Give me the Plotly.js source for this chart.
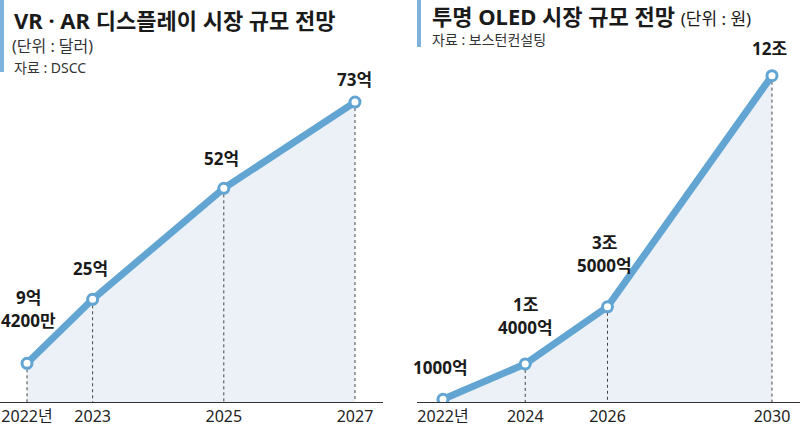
<!DOCTYPE html>
<html><head><meta charset="utf-8">
<script src="https://cdn.plot.ly/plotly-3.0.1.min.js"></script>
<style>html,body{margin:0;padding:0;background:#fff}#c{width:800px;height:430px}</style>
</head><body><div id="c"></div>
<script>
// Left chart: VR·AR display market (억 달러)
const vrYears = [2022, 2023, 2025, 2027];
const vrValues = [9.42, 25, 52, 73];
const vrTickText = ['2022년', '2023', '2025', '2027'];
const vrLabels = ['9억<br>4200만', '25억', '52억', '73억'];
// Right chart: transparent OLED market (조 원)
const oledYears = [2022, 2024, 2026, 2030];
const oledValues = [0.1, 1.4, 3.5, 12];
const oledTickText = ['2022년', '2024', '2026', '2030'];
const oledLabels = ['1000억', '1조<br>4000억', '3조<br>5000억', '12조'];

const LINE = '#62a5d2';
const FILL = '#ebf1f7';
const FONT = '"Noto Sans", "Noto Sans CJK KR", sans-serif';

function drops(xs, ys) {
  const X = [], Y = [];
  xs.forEach((x, i) => { X.push(x, x, null); Y.push(ys[i], 0, null); });
  return {X, Y};
}
const d1 = drops(vrYears, vrValues), d2 = drops(oledYears, oledValues);

const traces = [
  {x: vrYears, y: vrValues, type: 'scatter', mode: 'lines', fill: 'tozeroy', fillcolor: FILL, line: {width: 0}, hoverinfo: 'skip', xaxis: 'x', yaxis: 'y'},
  {x: d1.X, y: d1.Y, type: 'scatter', mode: 'lines', line: {color: '#444', width: 1, dash: '3px,3px'}, xaxis: 'x', yaxis: 'y'},
  {x: vrYears, y: vrValues, type: 'scatter', mode: 'lines+markers', line: {color: LINE, width: 7}, marker: {size: 10, color: '#fff', line: {color: LINE, width: 3}}, xaxis: 'x', yaxis: 'y'},
  {x: oledYears, y: oledValues, type: 'scatter', mode: 'lines', fill: 'tozeroy', fillcolor: FILL, line: {width: 0}, hoverinfo: 'skip', xaxis: 'x2', yaxis: 'y2'},
  {x: d2.X, y: d2.Y, type: 'scatter', mode: 'lines', line: {color: '#444', width: 1, dash: '3px,3px'}, xaxis: 'x2', yaxis: 'y2'},
  {x: oledYears, y: oledValues, type: 'scatter', mode: 'lines+markers', line: {color: LINE, width: 7}, marker: {size: 10, color: '#fff', line: {color: LINE, width: 3}}, xaxis: 'x2', yaxis: 'y2'}
];

const annotations = [];
const LABFONT = {family: FONT, size: 17, color: '#1a1a1a', weight: 700};
function addLabels(labels, xs, ys, xr, yr, offs) {
  labels.forEach((t, i) => {
    const lines = t.split('<br>');
    lines.forEach((ln, j) => {
      const o = offs[i];
      const dy = o.dy - (lines.length - 1 - j) * 23;
      annotations.push({x: xs[i], y: ys[i], xref: xr, yref: yr, text: ln, showarrow: true,
        arrowcolor: 'rgba(0,0,0,0)', ax: o.dx, ay: dy, font: LABFONT});
    });
  });
}
addLabels(vrLabels, vrYears, vrValues, 'x', 'y', [{dx: 1, dy: -43}, {dx: -2, dy: -31}, {dx: -2, dy: -30}, {dx: 0, dy: -23}]);
addLabels(oledLabels, oledYears, oledValues, 'x2', 'y2', [{dx: -2, dy: -32}, {dx: 0, dy: -36}, {dx: -3, dy: -41}, {dx: -2, dy: -27}]);

// titles
annotations.push(
  {xref: 'paper', yref: 'paper', x: 12/800, y: 1 - 20/430, xanchor: 'left', yanchor: 'middle', showarrow: false, text: '<b>VR · AR 디스플레이 시장 규모 전망</b>', font: {family: FONT, size: 22, color: '#1a1a1a'}},
  {xref: 'paper', yref: 'paper', x: 10/800, y: 1 - 46/430, xanchor: 'left', yanchor: 'middle', showarrow: false, text: '(단위 : 달러)', font: {family: FONT, size: 16, color: '#333'}},
  {xref: 'paper', yref: 'paper', x: 12/800, y: 1 - 67/430, xanchor: 'left', yanchor: 'middle', showarrow: false, text: '자료 : DSCC', font: {family: FONT, size: 14, color: '#333'}},
  {xref: 'paper', yref: 'paper', x: 430/800, y: 1 - 16/430, xanchor: 'left', yanchor: 'middle', showarrow: false, text: '<b>투명 OLED 시장 규모 전망</b> <span style="font-size:17px;font-weight:400">(단위 : 원)</span>', font: {family: FONT, size: 22, color: '#1a1a1a'}},
  {xref: 'paper', yref: 'paper', x: 430/800, y: 1 - 39/430, xanchor: 'left', yanchor: 'middle', showarrow: false, text: '자료 : 보스턴컨설팅', font: {family: FONT, size: 14, color: '#333'}}
);

const shapes = [
  {type: 'rect', xref: 'paper', yref: 'paper', x0: 0, x1: 4/800, y0: 1 - 72/430, y1: 1, fillcolor: '#7db3db', line: {width: 0}},
  {type: 'rect', xref: 'paper', yref: 'paper', x0: 417/800, x1: 421/800, y0: 1 - 47/430, y1: 1, fillcolor: '#7db3db', line: {width: 0}}
];

const axBase = {showgrid: false, zeroline: false, showline: true, linecolor: '#333', linewidth: 1.2, ticks: '', tickmode: 'array', tickfont: {family: FONT, size: 16, color: '#222'}, fixedrange: true};
const yBase = {showgrid: false, zeroline: false, showline: false, showticklabels: false, domain: [28/430, 1 - 40/430], fixedrange: true};

const layout = {
  width: 800, height: 430, margin: {l: 0, r: 0, t: 0, b: 0},
  paper_bgcolor: '#fff', plot_bgcolor: 'rgba(0,0,0,0)', showlegend: false,
  xaxis: Object.assign({}, axBase, {domain: [0, 383/800], range: [2021.588, 2027.427], tickvals: vrYears, ticktext: vrTickText, anchor: 'y'}),
  yaxis: Object.assign({}, yBase, {range: [0, 88.1], anchor: 'x'}),
  xaxis2: Object.assign({}, axBase, {domain: [417/800, 1], range: [2021.368, 2030.681], tickvals: oledYears, ticktext: oledTickText, anchor: 'y2'}),
  yaxis2: Object.assign({}, yBase, {range: [0, 13.31], anchor: 'x2'}),
  annotations: annotations, shapes: shapes
};
Plotly.newPlot('c', traces, layout, {displayModeBar: false, staticPlot: true});
</script></body></html>
